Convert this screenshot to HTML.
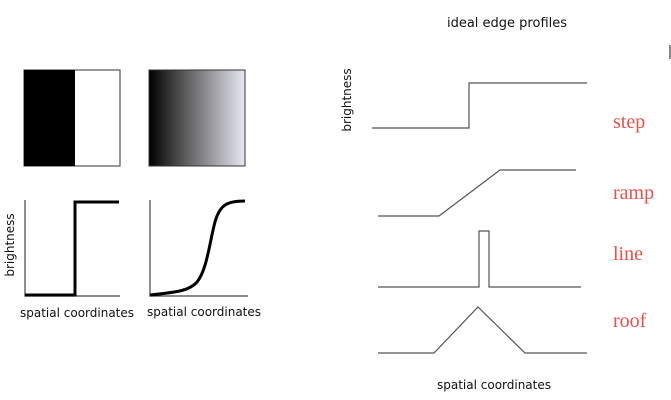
<!DOCTYPE html>
<html><head><style>
body{margin:0;background:#fff;}
svg{display:block;}
</style></head><body>
<svg width="671" height="400" xmlns="http://www.w3.org/2000/svg">
<defs><linearGradient id="g" x1="0" x2="1" y1="0" y2="0">
<stop offset="0" stop-color="#000"/><stop offset="0.35" stop-color="#555"/><stop offset="1" stop-color="#e8e8f2"/></linearGradient></defs>
<rect x="24" y="70" width="96" height="96" fill="#fff" stroke="#333" stroke-width="1"/>
<rect x="24" y="70" width="51" height="96" fill="#000"/>
<rect x="149" y="70" width="96" height="96" fill="url(#g)" stroke="#333" stroke-width="1"/>
<g stroke="#444" stroke-width="1.2" fill="none">
<path d="M25 200 V296 H120"/>
<path d="M150 200 V296 H248"/>
</g>
<path d="M25 295 H75 V202 H119" stroke="#000" stroke-width="3" fill="none"/>
<path d="M150 295 C180 292 190 290 197 282 C207 270 210 240 215 222 C220 204 228 201 245 201" stroke="#000" stroke-width="3" fill="none"/>
<g font-family="DejaVu Sans, sans-serif" font-size="12" fill="#111">
<text x="20" y="317">spatial coordinates</text>
<text x="147" y="316">spatial coordinates</text>
<text transform="translate(14,245) rotate(-90)" text-anchor="middle">brightness</text>
<text x="507" y="27" text-anchor="middle" font-size="13">ideal edge profiles</text>
<text transform="translate(351,100) rotate(-90)" text-anchor="middle">brightness</text>
<text x="494" y="389" text-anchor="middle">spatial coordinates</text>
</g>
<g stroke="#555" stroke-width="1.2" fill="none">
<path d="M372 128 H469 V83 H587"/>
<path d="M378 216 H439 L500 170 H576"/>
<path d="M378 287 H479 V231 H489 V287 H581"/>
<path d="M378 353 H434 L478 307 L525 353 H587"/>
</g>
<g font-family="Liberation Serif, serif" font-size="20" fill="#e8504a">
<text x="613" y="128">step</text>
<text x="613" y="199">ramp</text>
<text x="613" y="260">line</text>
<text x="613" y="327">roof</text>
</g>
<rect x="669" y="45" width="2" height="14" fill="#888"/>
</svg>
</body></html>
